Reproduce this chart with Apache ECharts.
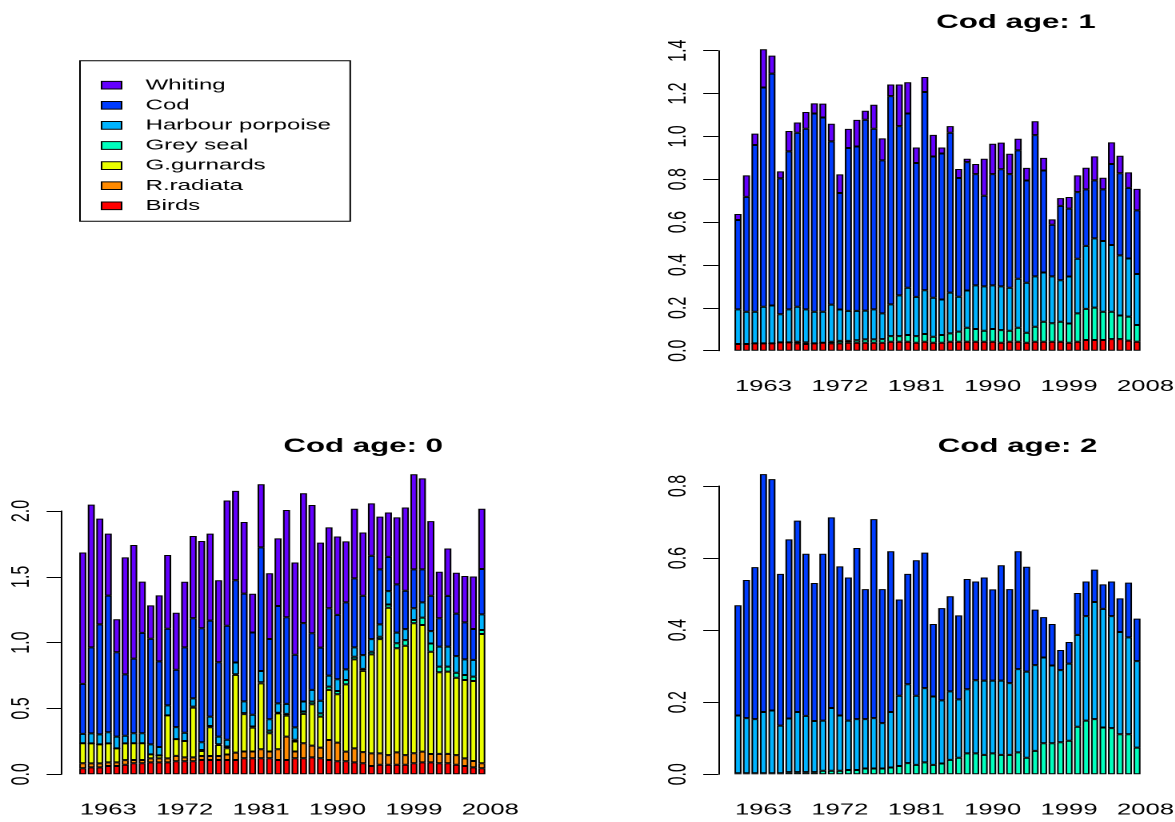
<!DOCTYPE html>
<html>
<head>
<meta charset="utf-8">
<title>Cod consumption by predator</title>
<script src="https://cdn.jsdelivr.net/npm/echarts@6/dist/echarts.min.js"></script>
<style>
  html, body { margin: 0; padding: 0; background: #ffffff; overflow: hidden; }
  /* the figure is laid out at 1/1.6 width and stretched horizontally */
  #chart { width: 734.375px; height: 822px; transform: scaleX(1.6); transform-origin: 0 0; }
</style>
</head>
<body>
<div id="chart"></div>
<script>
// ---- data -------------------------------------------------------------
const years = [1960, 1961, 1962, 1963, 1964, 1965, 1966, 1967, 1968, 1969,
  1970, 1971, 1972, 1973, 1974, 1975, 1976, 1977, 1978, 1979,
  1980, 1981, 1982, 1983, 1984, 1985, 1986, 1987, 1988, 1989,
  1990, 1991, 1992, 1993, 1994, 1995, 1996, 1997, 1998, 1999,
  2000, 2001, 2002, 2003, 2004, 2005, 2006, 2007];
// one empty slot after the last year carries the closing label
const axisYears = years.concat([2008]);
const yearTicks = [1963, 1972, 1981, 1990, 1999, 2008];

const legendOrder = ['Whiting', 'Cod', 'Harbour porpoise', 'Grey seal', 'G.gurnards', 'R.radiata', 'Birds'];

// Cod age 0
const age0Birds = [0.046,0.053,0.053,0.063,0.063,0.073,0.084,0.084,0.091,0.091,0.091,0.099,0.099,0.099,0.109,0.109,0.109,0.109,0.109,0.122,0.122,0.122,0.122,0.109,0.109,0.122,0.122,0.129,0.122,0.109,0.099,0.099,0.091,0.084,0.063,0.073,0.073,0.073,0.073,0.084,0.091,0.091,0.084,0.084,0.073,0.063,0.053,0.046];
const age0Radiata = [0.038,0.030,0.030,0.028,0.028,0.035,0.025,0.025,0.030,0.030,0.030,0.041,0.030,0.030,0.030,0.030,0.030,0.041,0.056,0.051,0.051,0.068,0.051,0.081,0.177,0.051,0.114,0.089,0.081,0.152,0.142,0.073,0.106,0.084,0.096,0.086,0.073,0.094,0.073,0.076,0.081,0.063,0.071,0.071,0.073,0.058,0.048,0.038];
const age0Gurnards = [0.152,0.152,0.144,0.144,0.106,0.127,0.127,0.127,0.030,0.023,0.327,0.127,0.124,0.377,0.038,0.218,0.084,0.048,0.590,0.284,0.182,0.501,0.139,0.273,0.160,0.076,0.223,0.314,0.235,0.380,0.367,0.511,0.676,0.618,0.752,0.868,1.119,0.790,0.830,0.987,0.962,0.777,0.620,0.625,0.587,0.595,0.608,0.982];
const age0GreySeal = [0,0,0,0,0,0,0,0,0,0,0,0,0,0.008,0.008,0.010,0.005,0.013,0.005,0.008,0.008,0.008,0.020,0.005,0.013,0.013,0.018,0.020,0.025,0.025,0.025,0.033,0.020,0.015,0.020,0.018,0.025,0.038,0.043,0.025,0.056,0.063,0.043,0.038,0.038,0.038,0.033,0.030];
const age0Porpoise = [0.071,0.076,0.076,0.084,0.089,0.058,0.076,0.076,0.076,0.063,0.076,0.091,0.063,0.063,0.058,0.071,0.058,0.051,0.089,0.089,0.089,0.086,0.086,0.071,0.076,0.094,0.076,0.089,0.096,0.084,0.089,0.081,0.071,0.104,0.096,0.094,0.101,0.081,0.084,0.089,0.116,0.094,0.152,0.152,0.127,0.119,0.127,0.119];
const age0Cod = [0.380,0.653,0.836,1.038,0.641,0.466,0.567,0.762,0.803,0.651,0.582,0.436,0.648,0.608,0.866,0.729,0.565,0.866,0.625,0.818,0.625,0.939,0.610,0.739,0.658,0.552,0.595,0.430,0.403,0.511,0.489,0.509,0.524,0.451,0.633,0.418,0.261,0.367,0.291,0.296,0.251,0.268,0.215,0.385,0.322,0.281,0.235,0.344];
const age0Whiting = [0.998,1.084,0.803,0.471,0.251,0.889,0.863,0.390,0.253,0.501,0.560,0.433,0.499,0.625,0.663,0.661,0.623,0.952,0.679,0.544,0.294,0.479,0.499,0.514,0.815,0.701,0.987,0.975,0.798,0.615,0.595,0.463,0.529,0.481,0.398,0.400,0.337,0.509,0.633,0.722,0.691,0.567,0.354,0.360,0.311,0.352,0.398,0.458];

// Cod age 1
const age1Birds = [0.031,0.031,0.034,0.034,0.034,0.039,0.039,0.034,0.031,0.034,0.037,0.034,0.034,0.037,0.037,0.037,0.037,0.037,0.042,0.042,0.042,0.037,0.042,0.037,0.037,0.042,0.042,0.042,0.042,0.042,0.042,0.037,0.042,0.042,0.037,0.042,0.042,0.042,0.042,0.037,0.042,0.050,0.050,0.050,0.054,0.054,0.047,0.042];
const age1GreySeal = [0,0,0,0,0,0,0,0.008,0.008,0,0,0.008,0.012,0.009,0.012,0.016,0.016,0.017,0.026,0.026,0.031,0.031,0.036,0.028,0.036,0.039,0.047,0.065,0.059,0.051,0.059,0.059,0.051,0.065,0.047,0.070,0.093,0.086,0.093,0.090,0.132,0.145,0.151,0.132,0.128,0.110,0.112,0.078];
const age1Porpoise = [0.162,0.151,0.148,0.171,0.177,0.131,0.154,0.163,0.154,0.148,0.145,0.173,0.146,0.140,0.137,0.134,0.140,0.120,0.148,0.190,0.221,0.183,0.204,0.182,0.166,0.190,0.163,0.174,0.204,0.207,0.204,0.204,0.201,0.229,0.233,0.235,0.230,0.219,0.194,0.219,0.255,0.294,0.323,0.330,0.311,0.281,0.271,0.238];
const age1Cod = [0.417,0.536,0.778,1.023,1.082,0.634,0.737,0.812,0.843,0.925,0.906,0.762,0.544,0.760,0.767,0.891,0.843,0.714,0.972,0.790,0.813,0.625,0.925,0.659,0.681,0.746,0.554,0.599,0.519,0.423,0.519,0.547,0.530,0.599,0.477,0.659,0.476,0.241,0.347,0.317,0.311,0.264,0.271,0.241,0.378,0.383,0.330,0.297];
const age1Whiting = [0.028,0.100,0.053,0.179,0.084,0.033,0.095,0.048,0.078,0.047,0.065,0.082,0.087,0.089,0.124,0.042,0.112,0.103,0.054,0.194,0.146,0.072,0.070,0.101,0.028,0.031,0.042,0.016,0.047,0.173,0.142,0.124,0.095,0.054,0.059,0.065,0.059,0.025,0.036,0.054,0.078,0.101,0.112,0.054,0.101,0.082,0.072,0.100];

// Cod age 2
const age2GreySeal = [0.003,0.003,0.003,0.003,0.003,0.003,0.006,0.006,0.006,0.006,0.010,0.010,0.010,0.012,0.012,0.016,0.016,0.016,0.019,0.023,0.031,0.026,0.033,0.026,0.030,0.040,0.046,0.058,0.058,0.054,0.058,0.054,0.054,0.061,0.046,0.065,0.086,0.086,0.089,0.093,0.132,0.149,0.153,0.130,0.128,0.111,0.111,0.074];
const age2Porpoise = [0.160,0.153,0.150,0.170,0.174,0.132,0.149,0.167,0.156,0.142,0.139,0.174,0.153,0.137,0.141,0.137,0.140,0.126,0.154,0.195,0.219,0.192,0.206,0.190,0.175,0.190,0.162,0.178,0.203,0.206,0.202,0.206,0.199,0.231,0.239,0.238,0.238,0.216,0.200,0.214,0.255,0.290,0.325,0.329,0.311,0.284,0.269,0.240];
const age2Cod = [0.306,0.383,0.422,0.660,0.642,0.421,0.497,0.531,0.450,0.383,0.463,0.529,0.414,0.397,0.475,0.361,0.552,0.372,0.446,0.267,0.306,0.376,0.376,0.201,0.256,0.264,0.233,0.306,0.274,0.286,0.253,0.320,0.261,0.327,0.291,0.154,0.112,0.115,0.056,0.060,0.116,0.096,0.090,0.068,0.096,0.093,0.152,0.118];

// ---- styling ----------------------------------------------------------
const colors = {
  'Whiting': '#6400ff',
  'Cod': '#003cff',
  'Harbour porpoise': '#00b4ff',
  'Grey seal': '#00ffbe',
  'G.gurnards': '#eaff00',
  'R.radiata': '#ff8a00',
  'Birds': '#ff0000'
};
const FONT = '"Liberation Sans", Arial, Helvetica, sans-serif';
const PITCH = 5.306;   // width of one year slot

const chart = echarts.init(document.getElementById('chart'), null, {
  width: 734.375, height: 822, devicePixelRatio: 2
});

function barSeries(name, values, panel) {
  return {
    type: 'bar',
    name: name,
    stack: 'panel' + panel,
    xAxisIndex: panel,
    yAxisIndex: panel,
    barWidth: 4.4,
    clip: false,
    silent: true,
    animation: false,
    itemStyle: { color: colors[name], borderColor: '#000', borderWidth: 1 },
    data: values
  };
}

function xAxisFor(panel) {
  return {
    type: 'category', gridIndex: panel, data: axisYears, boundaryGap: true,
    axisLine: { show: false }, axisTick: { show: false }, splitLine: { show: false },
    axisLabel: {
      interval: (idx, val) => yearTicks.indexOf(Number(val)) >= 0,
      margin: 28, fontSize: 16, color: '#000', fontFamily: FONT
    }
  };
}

function yAxisFor(panel, max, step, offset) {
  return {
    type: 'value', gridIndex: panel, min: 0, max: max, interval: step, offset: offset,
    axisLine: { show: true, lineStyle: { color: '#000', width: 1 } },
    axisTick: { show: true, length: 9.4, lineStyle: { color: '#000', width: 1 } },
    splitLine: { show: false },
    axisLabel: {
      rotate: 90, margin: 17, fontSize: 16, color: '#000', fontFamily: FONT,
      formatter: v => v.toFixed(1)
    }
  };
}

function panelTitle(text, centerX, top) {
  return {
    text: text, left: centerX, top: top, textAlign: 'center', padding: 0,
    textStyle: { fontFamily: FONT, fontWeight: 'bold', fontSize: 19.5, color: '#000' }
  };
}

// slot of year 1960 centred at firstX
function gridFor(firstX, top, height) {
  return {
    left: firstX - PITCH / 2, top: top, width: PITCH * axisYears.length, height: height,
    containLabel: false, outerBoundsMode: 'none'
  };
}

const option = {
  backgroundColor: '#ffffff',
  animation: false,
  title: [
    panelTitle('Cod age: 1', 635, 12.8),
    panelTitle('Cod age: 0', 227, 436.8),
    panelTitle('Cod age: 2', 636, 436.8)
  ],
  legend: {
    orient: 'vertical', left: 50, top: 60.7,
    data: legendOrder,
    icon: 'rect', itemWidth: 12.5, itemHeight: 7.7, itemGap: 5.1,
    selectedMode: false,
    padding: [17, 12, 8, 13],
    borderColor: '#000', borderWidth: 1,
    itemStyle: { borderColor: '#000', borderWidth: 1 },
    textStyle: { fontFamily: FONT, fontSize: 15, color: '#000', padding: [0, 0, 0, 10] }
  },
  grid: [
    gridFor(461.25, 50.7, 300),
    gridFor(51.75, 511, 263.3),
    gridFor(461.25, 486, 288.3)
  ],
  xAxis: [xAxisFor(0), xAxisFor(1), xAxisFor(2)],
  yAxis: [
    yAxisFor(0, 1.4, 0.2, 461.25 - PITCH / 2 - 448.94),
    yAxisFor(1, 2.0, 0.5, 51.75 - PITCH / 2 - 38.56),
    yAxisFor(2, 0.8, 0.2, 461.25 - PITCH / 2 - 448.94)
  ],
  series: [
    // Cod age 1 (top right)
    barSeries('Birds', age1Birds, 0),
    barSeries('Grey seal', age1GreySeal, 0),
    barSeries('Harbour porpoise', age1Porpoise, 0),
    barSeries('Cod', age1Cod, 0),
    barSeries('Whiting', age1Whiting, 0),
    // Cod age 0 (bottom left)
    barSeries('Birds', age0Birds, 1),
    barSeries('R.radiata', age0Radiata, 1),
    barSeries('G.gurnards', age0Gurnards, 1),
    barSeries('Grey seal', age0GreySeal, 1),
    barSeries('Harbour porpoise', age0Porpoise, 1),
    barSeries('Cod', age0Cod, 1),
    barSeries('Whiting', age0Whiting, 1),
    // Cod age 2 (bottom right)
    barSeries('Grey seal', age2GreySeal, 2),
    barSeries('Harbour porpoise', age2Porpoise, 2),
    barSeries('Cod', age2Cod, 2)
  ]
};

chart.setOption(option);
</script>
</body>
</html>
